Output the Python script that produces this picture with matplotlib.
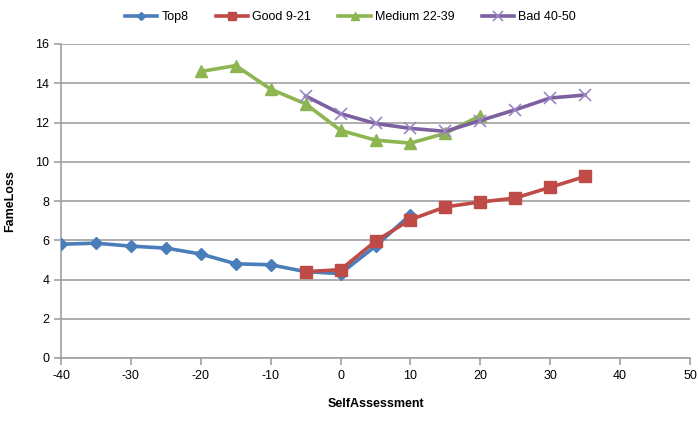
import matplotlib
matplotlib.use('Agg')
import matplotlib.pyplot as plt

# data
top8_x = [-40, -35, -30, -25, -20, -15, -10, -5, 0, 5, 10]
top8_y = [5.8, 5.85, 5.7, 5.6, 5.3, 4.8, 4.75, 4.4, 4.3, 5.7, 7.3]

good_x = [-5, 0, 5, 10, 15, 20, 25, 30, 35]
good_y = [4.4, 4.5, 5.95, 7.05, 7.7, 7.95, 8.15, 8.7, 9.25]

medium_x = [-20, -15, -10, -5, 0, 5, 10, 15, 20]
medium_y = [14.6, 14.9, 13.7, 12.95, 11.6, 11.1, 10.95, 11.45, 12.35]

bad_x = [-5, 0, 5, 10, 15, 20, 25, 30, 35]
bad_y = [13.35, 12.45, 11.95, 11.7, 11.55, 12.1, 12.65, 13.25, 13.4]

plt.rcParams['font.family'] = ['Liberation Sans', 'DejaVu Sans']
plt.rcParams['axes.unicode_minus'] = False

fig = plt.figure(figsize=(6.98, 4.28), dpi=100)
ax = fig.add_axes([61/698, 1 - 358/428, (690 - 61)/698, (358 - 44)/428])

ax.plot(top8_x, top8_y, color='#4A7EBB', lw=2.6, marker='D', ms=6, label='Top8', zorder=3)
ax.plot(good_x, good_y, color='#BE4B48', lw=2.6, marker='s', ms=8, label='Good 9-21', zorder=4)
ax.plot(medium_x, medium_y, color='#8DB551', lw=2.6, marker='^', ms=8, label='Medium 22-39', zorder=3)
ax.plot(bad_x, bad_y, color='#7D60A0', lw=2.6, marker='x', ms=9, mew=1.2,
        mec='#9A88C4', label='Bad 40-50', zorder=3)

ax.set_xlim(-40, 50)
ax.set_ylim(0, 16)
ax.set_xticks(range(-40, 51, 10))
ax.set_yticks(range(0, 17, 2))
ax.yaxis.grid(True, color='#A0A0A0', lw=1.2)
ax.set_axisbelow(True)
for s in ['top', 'right']:
    ax.spines[s].set_visible(False)
for s in ['left', 'bottom']:
    ax.spines[s].set_color('#A0A0A0')
    ax.spines[s].set_linewidth(1.2)
ax.tick_params(colors='#A0A0A0', labelcolor='black', labelsize=9, length=5, width=1.2)

ax.set_xlabel('SelfAssessment', fontsize=9, fontweight='bold', labelpad=12)
ax.set_ylabel('FameLoss', fontsize=9, fontweight='bold', labelpad=14)

leg = ax.legend(loc='lower center', bbox_to_anchor=(0.46, 1.03), ncol=4, frameon=False,
                fontsize=9, handlelength=2.6, columnspacing=2.2, handletextpad=0.3,
                markerscale=0.75)

fig.savefig('out.png', dpi=100)
